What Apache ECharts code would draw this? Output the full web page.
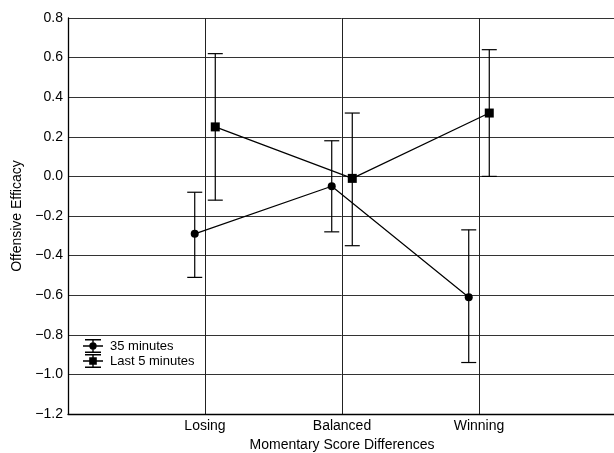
<!DOCTYPE html>
<html>
<head>
<meta charset="utf-8">
<script src="https://cdn.jsdelivr.net/npm/echarts@6/dist/echarts.min.js"></script>
<style>
  html, body { margin: 0; padding: 0; background: #fff; }
  #main { width: 614px; height: 453px; }
</style>
</head>
<body>
<div id="main"></div>
<script>
// data
var categories = ['Losing', 'Balanced', 'Winning'];
var mean35 = [-0.29, -0.05, -0.61];
var low35 = [-0.51, -0.28, -0.94];
var high35 = [-0.08, 0.18, -0.27];
var meanLast5 = [0.25, -0.01, 0.32];
var lowLast5 = [-0.12, -0.35, 0.00];
var highLast5 = [0.62, 0.32, 0.64];
var yTicks = [-1.2, -1.0, -0.8, -0.6, -0.4, -0.2, 0.0, 0.2, 0.4, 0.6, 0.8];

var shift = 0.075; // horizontal dodge of the two series

function pts(means, d) {
    return means.map(function (v, i) { return [i + 1 + d, v]; });
}
function bars(lows, highs, d) {
    return lows.map(function (v, i) { return [i + 1 + d, v, highs[i]]; });
}

function errorBar(params, api) {
    var x = api.value(0);
    var bot = api.coord([x, api.value(1)]);
    var top = api.coord([x, api.value(2)]);
    var hw = 7.5;
    var st = { stroke: '#000', lineWidth: 1.2 };
    return {
        type: 'group',
        children: [
            { type: 'line', shape: { x1: top[0], y1: top[1], x2: bot[0], y2: bot[1] }, style: st },
            { type: 'line', shape: { x1: top[0] - hw, y1: top[1], x2: top[0] + hw, y2: top[1] }, style: st },
            { type: 'line', shape: { x1: bot[0] - hw, y1: bot[1], x2: bot[0] + hw, y2: bot[1] }, style: st }
        ]
    };
}

var iconBase = 'M2,0H18V1.4H2Z M2,12.6H18V14H2Z M0,6.3H20V7.7H0Z M9.3,0H10.7V14H9.3Z ';
var iconCircle = 'path://' + iconBase + 'M6.3,7A3.7,3.7 0 1 1 13.7,7A3.7,3.7 0 1 1 6.3,7Z';
var iconSquare = 'path://' + iconBase + 'M6.2,3.2H13.8V10.8H6.2Z';

var font = '"Liberation Sans", Arial, sans-serif';

var chart = echarts.init(document.getElementById('main'));
chart.setOption({
    animation: false,
    backgroundColor: '#fff',
    textStyle: { fontFamily: font, color: '#000' },
    grid: { left: 68, top: 18, width: 548, bottom: 39, outerBoundsMode: 'none' },
    legend: {
        orient: 'vertical',
        left: 83,
        top: 339,
        padding: 0,
        itemWidth: 20,
        itemHeight: 14,
        itemGap: 1,
        textStyle: { fontFamily: font, fontSize: 13, color: '#000', padding: [0, 0, 0, 2] },
        data: [
            { name: '35 minutes', icon: iconCircle, itemStyle: { color: '#000' } },
            { name: 'Last 5 minutes', icon: iconSquare, itemStyle: { color: '#000' } }
        ]
    },
    xAxis: {
        type: 'value',
        min: 0,
        max: 4,
        interval: 1,
        name: 'Momentary Score Differences',
        nameLocation: 'middle',
        nameGap: 23,
        nameTextStyle: { fontFamily: font, fontSize: 14, color: '#000' },
        axisLine: { onZero: false, lineStyle: { color: '#000', width: 1.3 } },
        axisTick: { show: false },
        axisLabel: {
            fontFamily: font, fontSize: 14, color: '#000', margin: 5,
            formatter: function (v) { return categories[v - 1] || ''; }
        },
        splitLine: { show: true, lineStyle: { color: '#222', width: 1 } }
    },
    yAxis: {
        type: 'value',
        min: -1.2,
        max: 0.8,
        interval: 0.2,
        name: 'Offensive Efficacy',
        nameLocation: 'middle',
        nameGap: 39,
        nameTextStyle: { fontFamily: font, fontSize: 14, color: '#000' },
        axisLine: { show: true, onZero: false, lineStyle: { color: '#000', width: 1.3 } },
        axisTick: { show: false },
        axisLabel: {
            fontFamily: font, fontSize: 14, color: '#000', margin: 5,
            formatter: function (v) {
                var t = yTicks.reduce(function (a, b) { return Math.abs(b - v) < Math.abs(a - v) ? b : a; });
                return t.toFixed(1).replace('-', '\u2212');
            }
        },
        splitLine: { show: true, lineStyle: { color: '#333', width: 1 } }
    },
    series: [
        {
            name: '35 minutes',
            type: 'line',
            data: pts(mean35, -shift),
            symbol: 'circle',
            symbolSize: 8,
            itemStyle: { color: '#000' },
            lineStyle: { color: '#000', width: 1.2 },
            z: 5
        },
        {
            name: 'Last 5 minutes',
            type: 'line',
            data: pts(meanLast5, shift),
            symbol: 'rect',
            symbolSize: 9,
            itemStyle: { color: '#000' },
            lineStyle: { color: '#000', width: 1.2 },
            z: 5
        },
        {
            name: '35 minutes',
            type: 'custom',
            renderItem: errorBar,
            data: bars(low35, high35, -shift),
            z: 4
        },
        {
            name: 'Last 5 minutes',
            type: 'custom',
            renderItem: errorBar,
            data: bars(lowLast5, highLast5, shift),
            z: 4
        }
    ]
});
</script>
</body>
</html>
